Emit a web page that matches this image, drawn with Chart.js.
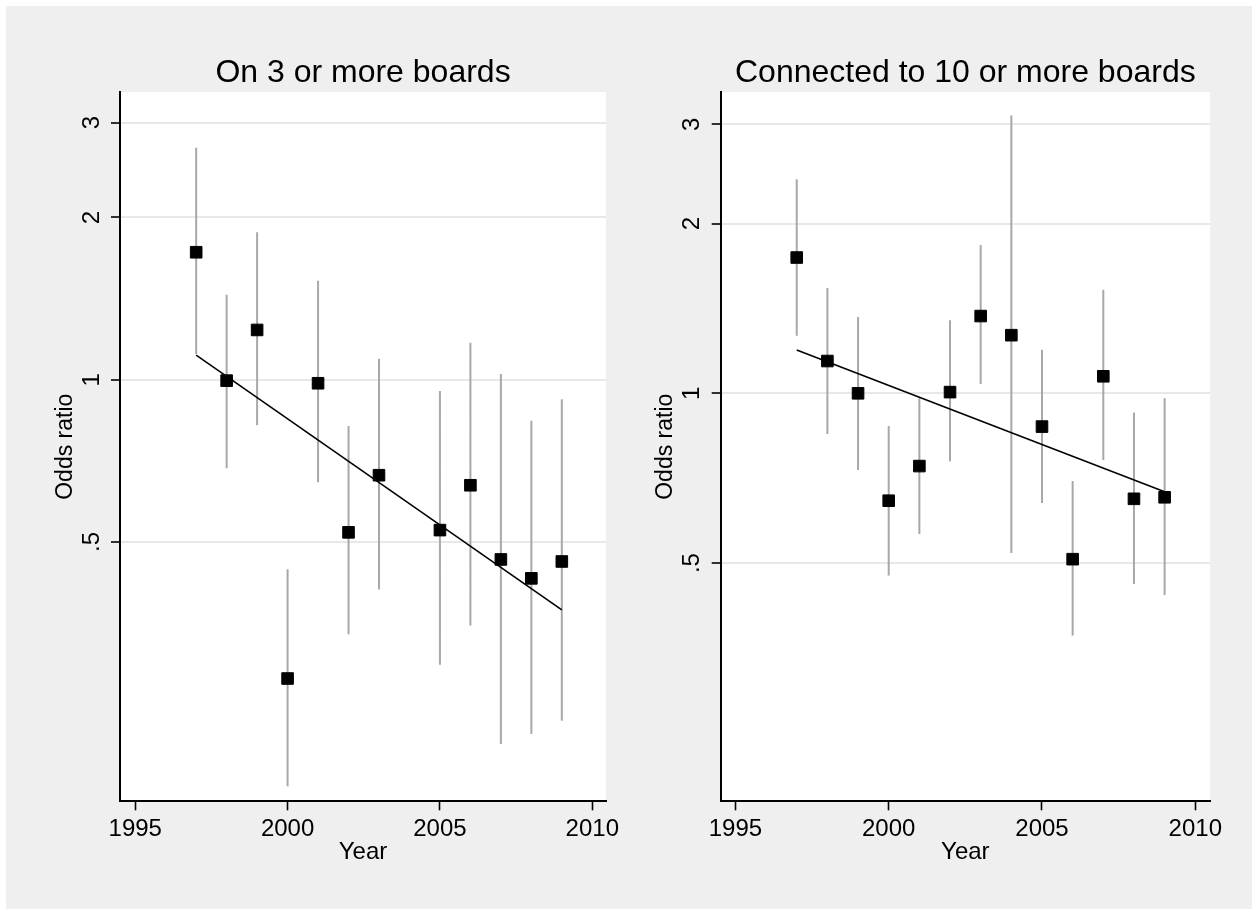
<!DOCTYPE html>
<html>
<head>
<meta charset="utf-8">
<title>Odds ratio by year</title>
<script src="https://cdn.jsdelivr.net/npm/chart.js@4.4.1/dist/chart.umd.min.js"></script>
<style>
  html, body { margin: 0; padding: 0; background: #fff; }
  body { width: 1252px; height: 910px; position: relative; overflow: hidden; }
  #frame { position: absolute; left: 6px; top: 6px; width: 1246px; height: 903px; background: #efefef; }
  canvas { position: absolute; top: 0; }
  #leftChart { left: 0; }
  #rightChart { left: 600px; }
</style>
</head>
<body>
<div id="frame"></div>
<canvas id="leftChart" width="626" height="910"></canvas>
<canvas id="rightChart" width="652" height="910"></canvas>
<script>
// Panel 1: on 3 or more boards (no 2004 estimate)
const boardsYears = [1997, 1998, 1999, 2000, 2001, 2002, 2003, 2005, 2006, 2007, 2008, 2009];
const boardsOR    = [1.724, 0.996, 1.237, 0.279, 0.985, 0.521, 0.665, 0.526, 0.637, 0.464, 0.428, 0.460];
const boardsLow   = [1.116, 0.685, 0.823, 0.176, 0.645, 0.337, 0.408, 0.296, 0.350, 0.211, 0.220, 0.233];
const boardsHigh  = [2.695, 1.438, 1.877, 0.445, 1.527, 0.821, 1.094, 0.953, 1.171, 1.025, 0.839, 0.920];
const boardsFit   = [1.111, 0.374];

// Panel 2: connected to 10 or more boards
const connYears = [1997, 1998, 1999, 2000, 2001, 2002, 2003, 2004, 2005, 2006, 2007, 2008, 2009];
const connOR    = [1.741, 1.141, 1.000, 0.645, 0.743, 1.005, 1.371, 1.268, 0.873, 0.508, 1.072, 0.650, 0.654];
const connLow   = [1.265, 0.847, 0.731, 0.475, 0.563, 0.758, 1.039, 0.521, 0.639, 0.372, 0.762, 0.459, 0.439];
const connHigh  = [2.396, 1.538, 1.365, 0.875, 0.980, 1.347, 1.833, 3.110, 1.195, 0.699, 1.526, 0.925, 0.980];
const connFit   = [1.193, 0.669];

const fitYears = [1997, 2009];
const yTicks = [0.5, 1, 2, 3];
const xTicks = [1995, 2000, 2005, 2010];

const FONT = "'Liberation Sans', Arial, sans-serif";

// white plot region on the grey graph background
const plotBackground = {
  id: 'plotBackground',
  beforeDraw(chart) {
    const { ctx, chartArea } = chart;
    ctx.save();
    ctx.fillStyle = '#ffffff';
    ctx.fillRect(chartArea.left, chartArea.top, chartArea.width, chartArea.height);
    ctx.restore();
  }
};

function makePanel(canvasId, title, years, or, low, high, fit, range, yAxisWidth, padRight) {
  // CI spikes as one line dataset broken by nulls
  const spikes = [];
  years.forEach((x, i) => {
    spikes.push({ x: x, y: low[i] }, { x: x, y: high[i] }, { x: x, y: null });
  });

  return new Chart(document.getElementById(canvasId), {
    type: 'scatter',
    data: {
      datasets: [
        {
          label: 'Odds ratio',
          data: years.map((x, i) => ({ x: x, y: or[i] })),
          pointStyle: 'rect',
          pointRadius: 8.2,
          backgroundColor: '#000',
          borderColor: '#000',
          borderWidth: 1,
          order: 0
        },
        {
          type: 'line',
          label: 'Fitted',
          data: fitYears.map((x, i) => ({ x: x, y: fit[i] })),
          borderColor: '#000',
          borderWidth: 1.6,
          pointRadius: 0,
          fill: false,
          order: 1
        },
        {
          type: 'line',
          label: 'CI',
          data: spikes,
          borderColor: 'rgb(168,168,168)',
          borderWidth: 2,
          pointRadius: 0,
          spanGaps: false,
          fill: false,
          order: 2
        }
      ]
    },
    options: {
      responsive: false,
      animation: false,
      events: [],
      layout: { padding: { left: 0, right: padRight, top: 0, bottom: 0 } },
      plugins: {
        legend: { display: false },
        tooltip: { enabled: false },
        title: {
          display: true,
          text: title,
          fullSize: false,
          color: '#000',
          font: { family: FONT, size: 32, weight: 'normal' },
          padding: { top: 53.8, bottom: 0 }
        }
      },
      scales: {
        x: {
          type: 'linear',
          min: range.xMin,
          max: range.xMax,
          afterBuildTicks: scale => { scale.ticks = xTicks.map(v => ({ value: v })); },
          afterFit: scale => { scale.height = 108.7; },
          ticks: {
            autoSkip: false,
            minRotation: 0,
            maxRotation: 0,
            padding: 4.5,
            color: '#000',
            font: { family: FONT, size: 24 },
            callback: v => String(v)
          },
          grid: {
            drawOnChartArea: false,
            drawTicks: true,
            tickLength: 9,
            tickWidth: 1.6,
            tickColor: '#000'
          },
          border: { display: true, color: '#000', width: 2 },
          title: {
            display: true,
            text: 'Year',
            color: '#000',
            font: { family: FONT, size: 24 },
            padding: { top: 0, bottom: 43 }
          }
        },
        y: {
          type: 'logarithmic',
          min: range.yMin,
          max: range.yMax,
          afterBuildTicks: scale => { scale.ticks = yTicks.map(v => ({ value: v })); },
          afterFit: scale => { scale.width = yAxisWidth; },
          ticks: {
            autoSkip: false,
            minRotation: 90,
            maxRotation: 90,
            crossAlign: 'center',
            padding: 9,
            color: '#000',
            font: { family: FONT, size: 24 },
            callback: v => (v === 0.5 ? '.5' : String(v))
          },
          grid: {
            color: 'rgb(232,232,232)',
            lineWidth: 2,
            drawTicks: true,
            tickLength: 9,
            tickWidth: 1.6,
            tickColor: '#000'
          },
          border: { display: true, color: '#000', width: 2 },
          title: {
            display: true,
            text: 'Odds ratio',
            color: '#000',
            font: { family: FONT, size: 23 },
            padding: { top: 51.6, bottom: 0 }
          }
        }
      }
    },
    plugins: [plotBackground]
  });
}

makePanel('leftChart', 'On 3 or more boards', boardsYears, boardsOR, boardsLow, boardsHigh, boardsFit,
  { xMin: 1994.5, xMax: 2010.45, yMin: 0.1651, yMax: 3.416 }, 120, 20);

makePanel('rightChart', 'Connected to 10 or more boards', connYears, connOR, connLow, connHigh, connFit,
  { xMin: 1994.52, xMax: 2010.48, yMin: 0.189, yMax: 3.42 }, 120.7, 42);
</script>
</body>
</html>
